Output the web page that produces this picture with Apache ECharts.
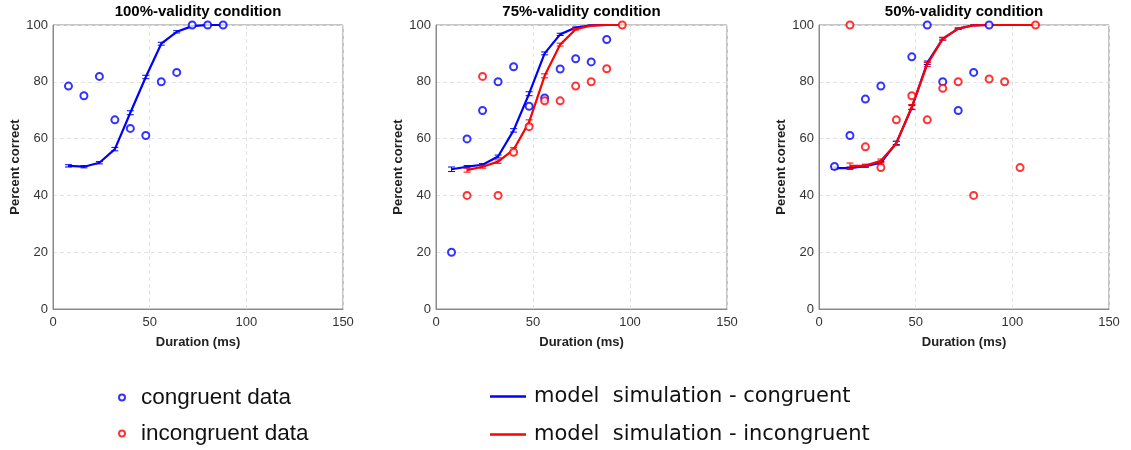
<!DOCTYPE html>
<html>
<head>
<meta charset="utf-8">
<script src="https://cdn.jsdelivr.net/npm/echarts@6/dist/echarts.min.js"></script>
<style>
html,body{margin:0;padding:0;background:#fff;}
#chart{width:1131px;height:450px;}
</style>
</head>
<body>
<div id="chart"></div>
<script>
// ---------- DATA ----------
const panelTitles = ['100%-validity condition', '75%-validity condition', '50%-validity condition'];
const xTicks = [0, 50, 100, 150];
const yTicks = [0, 20, 40, 60, 80, 100];
const legendNames = ['congruent data', 'incongruent data', 'model  simulation - congruent', 'model  simulation - incongruent'];

// Panel 1 (100% validity)
const p1CongDataDur = [8, 16, 24, 32, 40, 48, 56, 64, 72, 80, 88];
const p1CongData    = [78.5, 75.1, 81.9, 66.6, 63.6, 61.1, 80.0, 83.3, 100, 100, 100];
const p1CongModelDur = [8, 16, 24, 32, 40, 48, 56, 64, 72, 80, 88];
const p1CongModel    = [50.4, 50.1, 51.5, 56.3, 69.1, 81.7, 93.4, 97.6, 99.6, 100, 100];
const p1CongErr      = [0.4, 0.4, 0.4, 0.6, 0.7, 0.6, 0.5, 0.4, 0.2, 0.1, 0.1];

// Panel 2 (75% validity)
const p2CongDataDur = [8, 16, 24, 32, 40, 48, 56, 64, 72, 80, 88];
const p2CongData    = [20.0, 59.9, 69.9, 80.0, 85.3, 71.4, 74.3, 84.5, 88.1, 87.0, 94.9];
const p2IncDataDur  = [16, 24, 32, 40, 48, 56, 64, 72, 80, 88, 96];
const p2IncData     = [40.0, 81.9, 40.0, 55.2, 64.2, 73.3, 73.3, 78.5, 80.0, 84.6, 100];
const p2CongModelDur = [8, 16, 24, 32, 40, 48, 56, 64, 72, 80, 88];
const p2CongModel    = [49.2, 50.1, 50.8, 53.7, 62.9, 75.8, 90.0, 96.7, 99.1, 99.9, 100];
const p2CongErr      = [0.8, 0.4, 0.4, 0.5, 0.6, 0.7, 0.5, 0.4, 0.2, 0.1, 0.1];
const p2IncModelDur  = [16, 24, 32, 40, 48, 56, 64, 72, 80, 88, 96];
const p2IncModel     = [48.9, 50.1, 51.9, 56.1, 65.8, 82.1, 93.1, 98.5, 99.8, 100, 100];
const p2IncErr       = [0.7, 0.5, 0.6, 0.7, 0.8, 0.7, 0.5, 0.3, 0.1, 0.1, 0.1];

// Panel 3 (50% validity)
const p3CongDataDur = [8, 16, 24, 32, 48, 56, 64, 72, 80, 88];
const p3CongData    = [50.2, 61.1, 73.9, 78.5, 88.8, 100, 80.0, 69.9, 83.3, 100];
const p3IncDataDur  = [16, 24, 32, 40, 48, 56, 64, 72, 80, 88, 96, 104, 112];
const p3IncData     = [100, 57.1, 49.8, 66.6, 75.1, 66.6, 77.7, 80.0, 40.0, 81.0, 80.0, 49.8, 100];
const p3CongModelDur = [8, 16, 24, 32, 40, 48, 56, 64, 72, 80, 88, 96, 104, 112];
const p3CongModel    = [49.6, 49.6, 50.3, 51.5, 58.5, 70.9, 86.7, 95.1, 98.7, 99.9, 100, 100, 100, 100];
const p3CongErr      = [0.4, 0.4, 0.4, 0.5, 0.6, 0.7, 0.6, 0.4, 0.2, 0.1, 0.1, 0.1, 0.1, 0.1];
const p3IncModelDur  = [16, 24, 32, 40, 48, 56, 64, 72, 80, 88, 96, 104, 112];
const p3IncModel     = [50.4, 50.5, 52.2, 58.3, 71.2, 86.1, 95.2, 98.7, 99.9, 100, 100, 100, 100];
const p3IncErr       = [1.0, 0.5, 0.6, 0.7, 0.8, 0.7, 0.5, 0.3, 0.1, 0.1, 0.1, 0.1, 0.1];

const BLUE = '#0000ff';
const RED = '#ff0000';
const FONT = '"Liberation Sans", Arial, Helvetica, sans-serif';
const FONT2 = '"DejaVu Sans", Verdana, sans-serif';

// ---------- helpers ----------
function zip(xs, ys) { return xs.map((x, i) => [x, ys[i]]); }
function zip3(xs, ys, es) { return xs.map((x, i) => [x, ys[i], es[i]]); }

const grids = [
  { left: 53, top: 25, width: 290, height: 284 },
  { left: 436, top: 25, width: 291, height: 284 },
  { left: 819, top: 25, width: 290, height: 284 }
];

function scatterSeries(name, idx, xs, ys, color) {
  return {
    name: name, type: 'scatter', xAxisIndex: idx, yAxisIndex: idx,
    symbol: 'emptyCircle', symbolSize: 7,
    itemStyle: { color: color, borderColor: color, borderWidth: 1 },
    data: zip(xs, ys), z: 5, silent: true
  };
}
function lineSeries(name, idx, xs, ys, color, z) {
  return {
    name: name, type: 'line', xAxisIndex: idx, yAxisIndex: idx,
    showSymbol: false, symbol: 'none',
    lineStyle: { color: color, width: 2.2 },
    itemStyle: { color: color },
    data: zip(xs, ys), z: z, silent: true
  };
}
function errSeries(idx, xs, ys, es, color, z) {
  return {
    type: 'custom', xAxisIndex: idx, yAxisIndex: idx, z: z, silent: true,
    data: zip3(xs, ys, es),
    renderItem: function (params, api) {
      const x = api.value(0), y = api.value(1), e = api.value(2);
      const lo = api.coord([x, y - e]);
      const hi = api.coord([x, y + e]);
      const hw = 3.5;
      const st = { stroke: color, lineWidth: 1 };
      return {
        type: 'group',
        children: [
          { type: 'line', shape: { x1: lo[0], y1: lo[1], x2: hi[0], y2: hi[1] }, style: st },
          { type: 'line', shape: { x1: lo[0] - hw, y1: lo[1], x2: lo[0] + hw, y2: lo[1] }, style: st },
          { type: 'line', shape: { x1: hi[0] - hw, y1: hi[1], x2: hi[0] + hw, y2: hi[1] }, style: st }
        ]
      };
    }
  };
}

const xAxes = grids.map((g, i) => ({
  type: 'value', gridIndex: i, min: 0, max: 150, interval: 50,
  name: 'Duration (ms)', nameLocation: 'middle', nameGap: 27,
  nameTextStyle: { fontFamily: FONT, fontWeight: 'bold', fontSize: 13, color: '#222' },
  axisLine: { show: true, onZero: false, lineStyle: { color: '#8a8a8a', width: 1 } },
  axisTick: { show: false },
  axisLabel: { fontFamily: FONT, fontSize: 13, color: '#333', margin: 7 },
  splitLine: { show: true, lineStyle: { color: '#e3e3e3', type: [4, 3], width: 1 } }
}));
const yAxes = grids.map((g, i) => ({
  type: 'value', gridIndex: i, min: 0, max: 100, interval: 20,
  name: 'Percent correct', nameLocation: 'middle', nameGap: 30, nameRotate: 90,
  nameTextStyle: { fontFamily: FONT, fontWeight: 'bold', fontSize: 13, color: '#222' },
  axisLine: { show: true, lineStyle: { color: '#8a8a8a', width: 1 } },
  axisTick: { show: false },
  axisLabel: { fontFamily: FONT, fontSize: 13, color: '#333', margin: 5 },
  splitLine: { show: true, lineStyle: { color: '#e3e3e3', type: [4, 3], width: 1 } }
}));

const titles = grids.map((g, i) => ({
  text: panelTitles[i], left: g.left + g.width / 2, top: 4, textAlign: 'center', padding: 0,
  textStyle: { fontFamily: FONT, fontWeight: 'bold', fontSize: 15, color: '#000' }
}));

const series = [
  // panel 1
  errSeries(0, p1CongModelDur, p1CongModel, p1CongErr, BLUE, 3),
  lineSeries(legendNames[2], 0, p1CongModelDur, p1CongModel, BLUE, 3),
  scatterSeries(legendNames[0], 0, p1CongDataDur, p1CongData, BLUE),
  // panel 2
  errSeries(1, p2CongModelDur, p2CongModel, p2CongErr, BLUE, 3),
  lineSeries(legendNames[2], 1, p2CongModelDur, p2CongModel, BLUE, 3),
  errSeries(1, p2IncModelDur, p2IncModel, p2IncErr, RED, 4),
  lineSeries(legendNames[3], 1, p2IncModelDur, p2IncModel, RED, 4),
  scatterSeries(legendNames[0], 1, p2CongDataDur, p2CongData, BLUE),
  scatterSeries(legendNames[1], 1, p2IncDataDur, p2IncData, RED),
  // panel 3
  errSeries(2, p3CongModelDur, p3CongModel, p3CongErr, BLUE, 3),
  lineSeries(legendNames[2], 2, p3CongModelDur, p3CongModel, BLUE, 3),
  errSeries(2, p3IncModelDur, p3IncModel, p3IncErr, RED, 4),
  lineSeries(legendNames[3], 2, p3IncModelDur, p3IncModel, RED, 4),
  scatterSeries(legendNames[0], 2, p3CongDataDur, p3CongData, BLUE),
  scatterSeries(legendNames[1], 2, p3IncDataDur, p3IncData, RED)
];

function legendItem(name, left, top, isLine) {
  return {
    data: [{ name: name, icon: isLine ? 'rect' : 'emptyCircle' }],
    left: left, top: top, padding: 0, selectedMode: false,
    itemWidth: isLine ? 36 : 6, itemHeight: isLine ? 2.5 : 6,
    itemStyle: isLine ? {} : { borderWidth: 1 },
    textStyle: isLine
      ? { fontFamily: FONT2, fontSize: 21, color: '#111', padding: [0, 0, 0, 3] }
      : { fontFamily: FONT, fontSize: 22.5, color: '#111', padding: [0, 0, 0, 11] }
  };
}

const option = {
  backgroundColor: '#fff',
  animation: false,
  title: titles,
  grid: grids.map(g => Object.assign({ show: true, borderColor: '#8a8a8a', borderWidth: 1, backgroundColor: 'transparent' }, g)),
  xAxis: xAxes,
  yAxis: yAxes,
  legend: [
    legendItem(legendNames[0], 118, 386, false),
    legendItem(legendNames[1], 118, 422, false),
    legendItem(legendNames[2], 490, 386, true),
    legendItem(legendNames[3], 490, 424, true)
  ],
  series: series
};

const chart = echarts.init(document.getElementById('chart'), null, { renderer: 'canvas' });
chart.setOption(option);
</script>
</body>
</html>
